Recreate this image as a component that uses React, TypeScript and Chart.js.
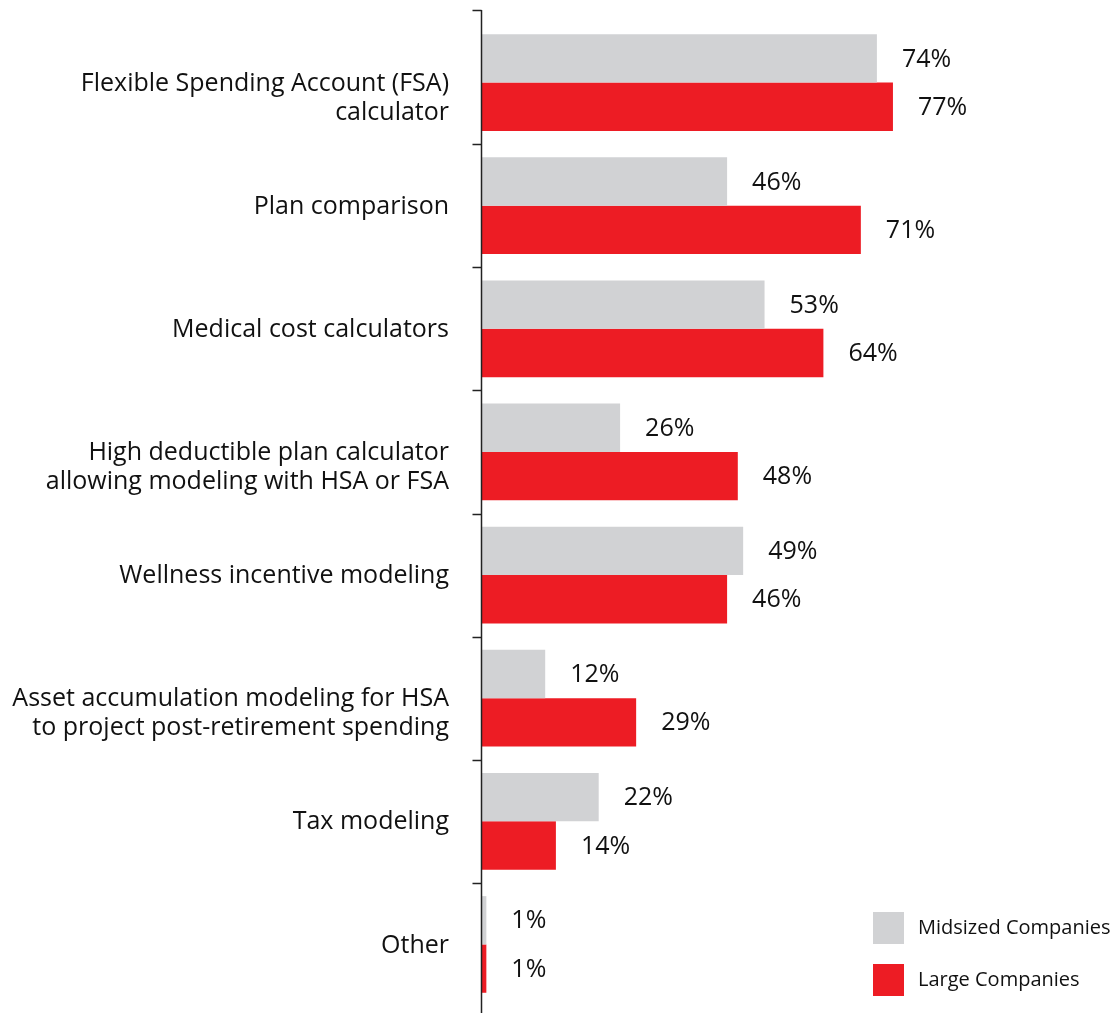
import React, { useEffect, useRef } from "react";
import { Chart, registerables } from "chart.js";

Chart.register(...registerables);

const categories: (string | string[])[] = [
  ["Flexible Spending Account (FSA)", "calculator"],
  "Plan comparison",
  "Medical cost calculators",
  ["High deductible plan calculator", "allowing modeling with HSA or FSA"],
  "Wellness incentive modeling",
  ["Asset accumulation modeling for HSA", "to project post-retirement spending"],
  "Tax modeling",
  "Other",
];
const midsized = [74, 46, 53, 26, 49, 12, 22, 1];
const large = [77, 71, 64, 48, 46, 29, 14, 1];
const seriesNames = ["Midsized Companies", "Large Companies"];
const seriesColors = ["#D1D2D4", "#ED1C24"];

const FONT = "'Open Sans'";
const TEXT = "#111111";

const overlay = {
  id: "overlay",
  afterDatasetsDraw(chart: any) {
    const ctx = chart.ctx;
    const area = chart.chartArea;
    const y = chart.scales.y;
    ctx.save();
    // axis line and ticks
    ctx.strokeStyle = "#222";
    ctx.lineWidth = 1.5;
    const ax = Math.round(area.left) + 0.5;
    ctx.beginPath();
    ctx.moveTo(ax, 10);
    ctx.lineTo(ax, 1013);
    ctx.moveTo(ax - 9, 10.5);
    ctx.lineTo(ax, 10.5);
    const n = categories.length;
    for (let i = 0; i < n - 1; i++) {
      const b = (y.getPixelForValue(i) + y.getPixelForValue(i + 1)) / 2;
      ctx.moveTo(ax - 9, Math.round(b) + 0.5);
      ctx.lineTo(ax, Math.round(b) + 0.5);
    }
    ctx.stroke();

    // category labels (first line on the category centre)
    ctx.fillStyle = TEXT;
    ctx.font = `25px ${FONT}`;
    ctx.textAlign = "right";
    ctx.textBaseline = "middle";
    chart.data.labels.forEach((lab: any, i: number) => {
      const lines = Array.isArray(lab) ? lab : [lab];
      const cy = y.getPixelForValue(i);
      lines.forEach((ln: string, k: number) => {
        ctx.fillText(ln, area.left - 32, cy + 1 + k * 29);
      });
    });

    // value labels
    ctx.textAlign = "left";
    ctx.font = `25px ${FONT}`;
    chart.data.datasets.forEach((ds: any, di: number) => {
      const meta = chart.getDatasetMeta(di);
      meta.data.forEach((el: any, i: number) => {
        ctx.fillText(ds.data[i] + "%", el.x + 25, el.y + 1);
      });
    });

    // legend
    ctx.font = `20px ${FONT}`;
    chart.data.datasets.forEach((ds: any, di: number) => {
      const top = 912 + di * 52;
      ctx.fillStyle = ds.backgroundColor;
      ctx.fillRect(873, top, 31, 32);
      ctx.fillStyle = TEXT;
      ctx.fillText(ds.label, 918, top + 16);
    });
    ctx.restore();
  },
};

export default function App() {
  const ref = useRef<HTMLCanvasElement>(null);
  useEffect(() => {
    document.body.style.margin = "0";
    const chart = new Chart(ref.current!, {
      type: "bar",
      data: {
        labels: categories,
        datasets: [
          { label: seriesNames[0], data: midsized, backgroundColor: seriesColors[0] },
          { label: seriesNames[1], data: large, backgroundColor: seriesColors[1] },
        ],
      },
      options: {
        indexAxis: "y",
        animation: false,
        responsive: false,
        maintainAspectRatio: false,
        layout: { padding: { top: 21, bottom: 7, left: 0, right: 97 } },
        datasets: { bar: { categoryPercentage: 0.785, barPercentage: 1.0 } },
        plugins: { legend: { display: false }, tooltip: { enabled: false } },
        scales: {
          x: { display: false, min: 0, max: 100 },
          y: {
            grid: { display: false, drawTicks: false },
            border: { display: false },
            ticks: { display: false },
            afterFit(scale: any) {
              scale.width = 481;
              scale.paddingTop = 0;
              scale.paddingBottom = 0;
            },
          },
        },
      },
      plugins: [overlay],
    });
    return () => chart.destroy();
  }, []);
  return <canvas ref={ref} width={1113} height={1013} style={{ display: "block" }} />;
}
